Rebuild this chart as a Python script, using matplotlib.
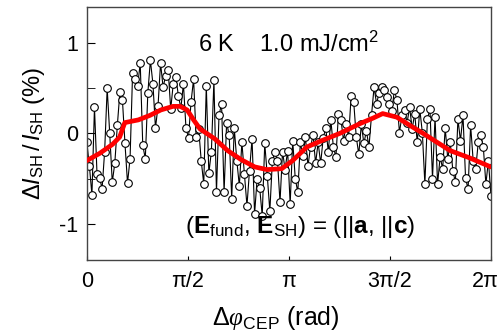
import numpy as np
import matplotlib.pyplot as plt
from matplotlib.transforms import ScaledTranslation

plt.rcParams['font.family'] = ['Liberation Sans', 'DejaVu Sans']
plt.rcParams['mathtext.fontset'] = 'custom'
plt.rcParams['mathtext.rm'] = 'Liberation Sans'
plt.rcParams['mathtext.it'] = 'Liberation Sans:italic'
plt.rcParams['mathtext.cal'] = 'Liberation Serif:italic'
plt.rcParams['mathtext.bf'] = 'Liberation Sans:bold'

dI = [
    -0.10, -0.36, -0.68, 0.29, -0.45, -0.49, -0.61, -0.20, 0.50, 0.00,
    -0.54, -0.33, 0.09, 0.46, 0.37, -0.11, -0.55, -0.28, 0.67, 0.60,
    0.53, 0.78, -0.13, -0.28, 0.45, 0.81, 0.55,
    0.06, 0.30, 0.78, 0.51, 0.64, 0.70, 0.27, 0.55, 0.63, 0.42,
    0.28, 0.55, 0.06, -0.05, 0.35, 0.60, -0.04, 0.05, -0.30, -0.56,
    0.53, -0.44, -0.20, 0.59, -0.65, 0.20,
    0.33, -0.65, 0.12, -0.02, -0.72, 0.06, -0.30, -0.58, -0.10, -0.45,
    -0.80, -0.41, -0.06, -0.89, -0.50, -0.60, -0.91, -0.11, -0.47, -0.86,
    -0.30, -0.21, -0.30, -0.76, -0.20, -0.40,
    -0.19, -0.78, -0.08, -0.50, -0.65, -0.10, -0.25, -0.04, -0.36, -0.15,
    -0.02, -0.33, -0.10, -0.33, -0.05, 0.06, -0.20, 0.15, -0.15, -0.26,
    0.22, 0.15, -0.08, 0.10, -0.04, 0.42,
    0.35, -0.04, -0.23, 0.10, -0.11, 0.03, -0.15, 0.20, 0.51, 0.33,
    0.45, 0.51, 0.48, 0.40, 0.33, 0.25, 0.48, 0.37, 0.01, 0.20,
    0.26, 0.12, 0.29, 0.05, 0.22, -0.10,
    0.27, 0.01, -0.56, 0.16, 0.27, -0.50, 0.18, -0.56, -0.26, -0.39,
    0.06, -0.28, -0.10, -0.41, -0.54, 0.16, -0.08, 0.20, -0.49, -0.62,
    0.09, -0.30, -0.39, -0.10, -0.02, -0.15, -0.56, -0.30, -0.69,
]
phase = np.linspace(0, 2 * np.pi, len(dI))

# smoothed curve (red)
smooth_x = [0.0, 0.20, 0.40, 0.51, 0.59, 0.80, 0.98, 1.15, 1.34, 1.45,
            1.56, 1.66, 1.76, 1.99, 2.19, 2.40, 2.61, 2.80, 3.03, 3.20,
            3.42, 3.65, 3.93, 4.25, 4.45, 4.60, 4.82, 5.02, 5.23, 5.45,
            5.65, 5.95, 6.28]
smooth_y = [-0.30, -0.22, -0.12, -0.04, 0.12, 0.15, 0.20, 0.26, 0.30, 0.30,
            0.26, 0.15, 0.05, -0.06, -0.19, -0.29, -0.37, -0.40, -0.39, -0.30,
            -0.15, -0.08, 0.00, 0.11, 0.17, 0.22, 0.18, 0.09, 0.00, -0.10,
            -0.19, -0.27, -0.37]

xticks = [0, np.pi / 2, np.pi, 3 * np.pi / 2, 2 * np.pi]
xlabels = ['0', 'π/2', 'π', '3π/2', '2π']

fig = plt.figure(figsize=(5.02, 3.32), dpi=100)
ax = fig.add_axes([0.173, 0.217, 0.805, 0.762])

ax.plot(phase, dI, '-', color='black', lw=0.8, marker='o', ms=5.5,
        mfc='white', mec='black', mew=0.8, zorder=2)
ax.plot(smooth_x, smooth_y, '-', color='#ff0000', lw=3.4, zorder=3,
        solid_capstyle='round', solid_joinstyle='round')

ax.set_xlim(0, 2 * np.pi)
ax.set_ylim(-1.4, 1.4)
ax.set_xticks(xticks)
ax.set_xticklabels(xlabels)
ax.set_yticks([-1, 0, 1])
ax.set_yticklabels(['-1', '0', '1'])
ax.set_yticks([-0.5, 0.5], minor=True)
ax.tick_params(axis='both', which='both', direction='in', labelsize=15.5)
ax.tick_params(axis='y', which='major', length=6, pad=6)
ax.tick_params(axis='y', which='minor', length=6)
ax.tick_params(axis='x', which='major', length=3, pad=8)
for s in ax.spines.values():
    s.set_color('#444444')
    s.set_linewidth(1.0)

# keep the last tick label inside the canvas
last = ax.get_xticklabels()[-1]
last.set_transform(last.get_transform() + ScaledTranslation(-4 / 72, 0, fig.dpi_scale_trans))

ax.set_xlabel(r'$\Delta\mathcal{\varphi}_{\rm CEP}$ (rad)', fontsize=18)
ax.xaxis.set_label_coords(0.468, -0.175)
ax.set_ylabel(r'$\Delta I_{\rm SH}\,/\,I_{\rm SH}$ (%)', fontsize=17)
ax.yaxis.set_label_coords(-0.098, 0.5)

ax.text(0.5, 0.853, r'6 K    1.0 mJ/cm$^2$', transform=ax.transAxes,
        ha='center', va='center', fontsize=17)
ax.text(0.527, 0.13, r'($\mathbf{E}_{\rm fund}$, $\mathbf{E}_{\rm SH}$) = (||$\mathbf{a}$, ||$\mathbf{c}$)',
        transform=ax.transAxes, ha='center', va='center', fontsize=17.5)

fig.savefig('out.png', dpi=100)
